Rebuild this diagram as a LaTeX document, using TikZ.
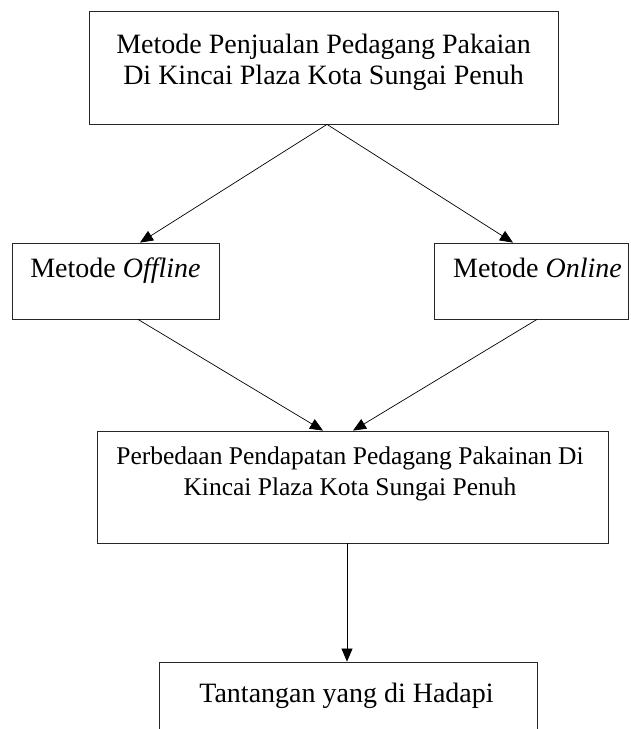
\documentclass[tikz,border=0pt]{standalone}
\usepackage{fontspec}
\setmainfont{Liberation Serif}
\usetikzlibrary{arrows.meta}
\begin{document}
\begin{tikzpicture}[x=1pt,y=1pt,
  box/.style={draw=black!85,line width=0.8pt,minimum width=#1,inner sep=0pt},
  txt/.style={font=\fontsize{28}{31}\selectfont,align=center,inner sep=0pt,anchor=base},
  smalltxt/.style={txt,font=\fontsize{25.5}{31}\selectfont},
  arr/.style={line width=0.7pt,-{Triangle[length=13pt,width=11pt]}}]
\useasboundingbox (0,0) rectangle (630,-729);
% boxes
\node[box=469pt,minimum height=113pt] (top) at (323.5,-67.5) {};
\node[box=207pt,minimum height=76pt] (off) at (115.5,-281) {};
\node[box=194pt,minimum height=76pt] (on) at (531,-281) {};
\node[box=511pt,minimum height=112pt] (mid) at (352.5,-487) {};
\node[box=378pt,minimum height=90pt] (bot) at (348,-707) {};
% texts
\node[txt] (toptxt) at (323.5,-84) {Metode Penjualan Pedagang Pakaian\\Di Kincai Plaza Kota Sungai Penuh};
\node[txt] (offtxt) at (115.5,-277) {Metode \textit{Offline}};
\node[txt] (ontxt) at (537.5,-277) {Metode \textit{Online}};
\node[smalltxt] (midtxt) at (350,-495) {Perbedaan Pendapatan Pedagang Pakainan Di\\Kincai Plaza Kota Sungai Penuh};
\node[txt] (bottxt) at (346.5,-702) {Tantangan yang di Hadapi};
% connectors
\draw[arr] ([xshift=3.5pt]top.south) -- ([xshift=24.5pt]off.north);
\draw[arr] ([xshift=3.5pt]top.south) -- ([xshift=-18pt]on.north);
\draw[arr] ([xshift=22.5pt]off.south) -- ([xshift=-29.5pt]mid.north);
\draw[arr] ([xshift=6pt]on.south) -- ([xshift=0.5pt]mid.north);
\draw[arr] ([xshift=-5.5pt]mid.south) -- ([xshift=-1pt]bot.north);
\end{tikzpicture}
\end{document}
